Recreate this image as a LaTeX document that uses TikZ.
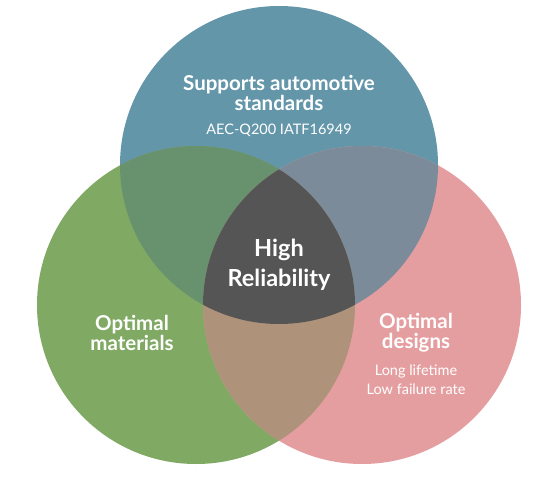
\documentclass[tikz,border=0pt]{standalone}
\usepackage{fontspec}
\setmainfont{Lato}
\usetikzlibrary{positioning}

\definecolor{setblue}{RGB}{100,150,170}
\definecolor{setgreen}{RGB}{128,169,100}
\definecolor{setpink}{RGB}{229,158,160}
\definecolor{bluegreen}{RGB}{104,146,109}
\definecolor{bluepink}{RGB}{123,139,153}
\definecolor{greenpink}{RGB}{174,146,122}
\definecolor{corecolor}{RGB}{85,85,85}

\begin{document}
\begin{tikzpicture}[
        x=1pt, y=-1pt,
        heading/.style={text=white, font=\fontsize{20.5}{20}\selectfont\bfseries, align=center, inner sep=0pt},
        detail/.style={text=white, font=\fontsize{14.5}{19}\selectfont, align=center, inner sep=0pt},
        core/.style={text=white, font=\fontsize{23.5}{30}\selectfont\bfseries, align=center, inner sep=0pt},
    ]
        \useasboundingbox (0,0) rectangle (540,486);
        \fill[white] (0,0) rectangle (540,486);

        % --- Centres of the three sets ---
        \coordinate (topc) at (279,165);
        \coordinate (leftc) at (196,305);
        \coordinate (rightc) at (362,305);

        % --- Plain circles ---
        \fill[setblue] (topc) circle[radius=159pt];
        \fill[setgreen] (leftc) circle[radius=159pt];
        \fill[setpink] (rightc) circle[radius=159pt];

        % --- Overlaps of two sets ---
        \begin{scope}
            \clip (topc) circle[radius=159pt];
            \fill[bluegreen] (leftc) circle[radius=159pt];
            \fill[bluepink] (rightc) circle[radius=159pt];
        \end{scope}
        \begin{scope}
            \clip (leftc) circle[radius=159pt];
            \fill[greenpink] (rightc) circle[radius=159pt];
        \end{scope}

        % --- Overlap of all three ---
        \begin{scope}
            \clip (topc) circle[radius=159pt];
            \clip (leftc) circle[radius=159pt];
            \fill[corecolor] (rightc) circle[radius=159pt];
        \end{scope}

        % --- Labels ---
        \node[heading] (standards) at (279,93) {Supports automotive\\standards};
        \node[detail] (norms) at (279,130) {AEC-Q200 IATF16949};
        \node[core] (reliability) at (279,265) {High\\Reliability};
        \node[heading] (materials) at (132,333) {Optimal\\materials};
        \node[heading] (designs) at (416,333) {Optimal\\designs};
        \node[detail] (lifetime) at (416,380) {Long lifetime\\Low failure rate};
    \end{tikzpicture}
\end{document}
